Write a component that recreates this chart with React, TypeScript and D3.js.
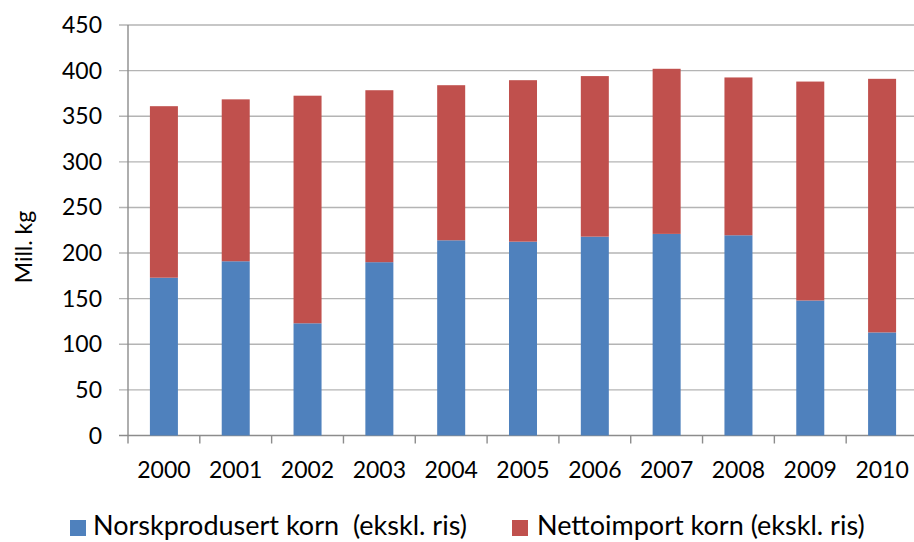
import React from 'react';
import * as d3 from 'd3';

const years = ['2000', '2001', '2002', '2003', '2004', '2005', '2006', '2007', '2008', '2009', '2010'];
const norsk = [173, 191, 123, 190, 214, 212.5, 218, 221, 219.5, 148, 113];
const netto = [188, 177.5, 249.5, 188.5, 170, 177, 176, 181, 173, 240, 278];
const yTicks = [0, 50, 100, 150, 200, 250, 300, 350, 400, 450];
const seriesNames = ['Norskprodusert korn  (ekskl. ris)', 'Nettoimport korn (ekskl. ris)'];
const colors = ['#4F81BD', '#C0504D'];

const W = 914;
const H = 542;
const font = 'Lato, Calibri, sans-serif';

function App() {
  const x = d3.scaleBand().domain(years).range([128, 918]).paddingInner(0.61).paddingOuter(0.305);
  const y = d3.scaleLinear().domain([0, 450]).range([435.5, 25]);

  const rows = years.map((yr, i) => ({ year: yr, norsk: norsk[i], netto: netto[i] }));
  const stacked = d3.stack<any>().keys(['norsk', 'netto'])(rows);
  const step = x.step();

  return (
    <svg width={W} height={H} style={{ position: 'absolute', left: 0, top: 0, background: '#fff' }}>
      {yTicks.map((t) => (
        <g key={t}>
          <line x1={119} x2={W} y1={y(t)} y2={y(t)} stroke={t === 0 ? '#8c8c8c' : '#b4b4b4'} strokeWidth={1.4} />
          <text x={102} y={y(t)} dy="0.35em" textAnchor="end" fontFamily={font} fontSize={23} fill="#000">
            {t}
          </text>
        </g>
      ))}
      <line x1={128} x2={128} y1={y(450)} y2={y(0)} stroke="#8c8c8c" strokeWidth={1.4} />
      {years.map((yr, i) => (
        <line key={yr} x1={128 + i * step} x2={128 + i * step} y1={y(0)} y2={y(0) + 8} stroke="#8c8c8c" strokeWidth={1.4} />
      ))}
      {stacked.map((s, si) =>
        s.map((d: any) => (
          <rect
            key={si + '-' + d.data.year}
            x={x(d.data.year)}
            y={y(d[1])}
            width={x.bandwidth()}
            height={y(d[0]) - y(d[1])}
            fill={colors[si]}
          />
        )),
      )}
      {years.map((yr) => (
        <text key={yr} x={(x(yr) as number) + x.bandwidth() / 2} y={478} textAnchor="middle" fontFamily={font} fontSize={23} fill="#000">
          {yr}
        </text>
      ))}
      <text transform="translate(32,247) rotate(-90)" textAnchor="middle" fontFamily={font} fontSize={23} fill="#000">
        Mill. kg
      </text>
      <rect x={70} y={520} width={16} height={16} fill={colors[0]} />
      <text x={93} y={535} fontFamily={font} fontSize={27} fill="#000" style={{ whiteSpace: 'pre' }}>
        {seriesNames[0]}
      </text>
      <rect x={512} y={520} width={16} height={16} fill={colors[1]} />
      <text x={537} y={535} fontFamily={font} fontSize={27} fill="#000">
        {seriesNames[1]}
      </text>
    </svg>
  );
}

export default App;
